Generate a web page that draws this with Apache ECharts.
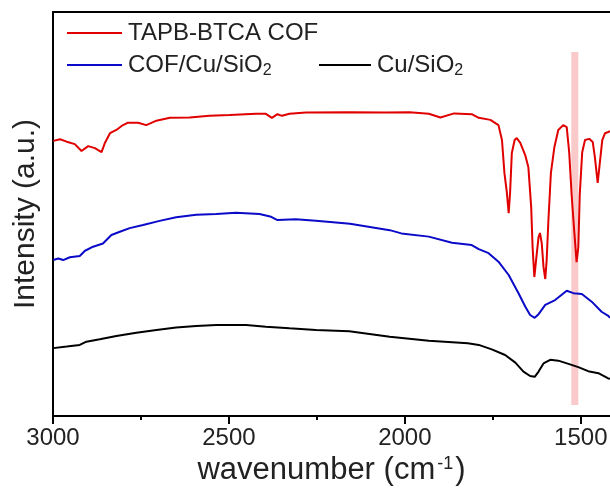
<!DOCTYPE html>
<html>
<head>
<meta charset="utf-8">
<title>FTIR</title>
<script src="https://cdn.jsdelivr.net/npm/echarts@6/dist/echarts.min.js"></script>
<style>
  html, body { margin: 0; padding: 0; background: #fff; }
  #chart { width: 610px; height: 488px; }
</style>
</head>
<body>
<div id="chart"></div>
<script>
// 波数 (cm-1) 与强度 (a.u.)
const redWn = [2999, 2980, 2961, 2938, 2919, 2900, 2881, 2862, 2853, 2838, 2820, 2805, 2787, 2758, 2735, 2706, 2668, 2612, 2555, 2498, 2423, 2395, 2378, 2362, 2349, 2328, 2281, 2158, 2054, 1987, 1932, 1899, 1860, 1810, 1790, 1757, 1734, 1724, 1717, 1710, 1705, 1701, 1696, 1688, 1682, 1672, 1658, 1649, 1641, 1637, 1632, 1625, 1620, 1616, 1611, 1606, 1601, 1597, 1592, 1585, 1575, 1564, 1550, 1540, 1533, 1526, 1518, 1512, 1507, 1503, 1496, 1488, 1476, 1466, 1460, 1452, 1445, 1439, 1431, 1422, 1417];
const redVal = [68.1, 68.5, 67.9, 67.3, 65.6, 66.8, 66.3, 65.3, 67.5, 70.0, 70.8, 71.8, 72.6, 72.6, 72.0, 73.1, 73.8, 73.9, 74.3, 74.5, 74.8, 74.8, 73.8, 74.7, 74.3, 74.8, 75.1, 75.2, 75.1, 75.2, 74.8, 73.9, 74.9, 74.7, 73.8, 73.3, 72.0, 68.3, 60.1, 55.2, 50.2, 55.2, 65.1, 68.3, 68.8, 67.6, 64.6, 61.6, 51.7, 41.8, 34.4, 40.3, 44.3, 45.3, 42.8, 36.9, 33.9, 38.6, 48.5, 60.1, 66.6, 70.8, 72.0, 71.5, 65.3, 54.7, 45.0, 38.1, 41.8, 54.7, 65.3, 68.3, 68.6, 67.8, 64.1, 57.7, 63.4, 68.3, 70.0, 70.3, 70.5];

const blueWn = [2999, 2985, 2971, 2952, 2924, 2909, 2886, 2858, 2834, 2810, 2782, 2744, 2697, 2650, 2593, 2536, 2480, 2413, 2380, 2362, 2310, 2253, 2196, 2156, 2043, 2010, 1932, 1866, 1810, 1790, 1762, 1734, 1705, 1677, 1658, 1644, 1631, 1620, 1601, 1573, 1540, 1521, 1497, 1469, 1441, 1422, 1417];
const blueVal = [38.6, 39.0, 38.6, 39.3, 39.6, 40.9, 41.9, 42.7, 44.8, 45.6, 46.5, 47.3, 48.3, 49.2, 49.8, 50.0, 50.3, 50.0, 49.3, 48.5, 48.7, 48.3, 47.9, 47.6, 46.0, 45.2, 44.4, 42.9, 42.3, 41.3, 40.3, 38.2, 34.9, 30.4, 27.1, 25.0, 24.3, 25.2, 27.5, 28.7, 31.0, 30.4, 30.2, 28.3, 25.8, 24.8, 24.3];

const blackWn = [2999, 2961, 2924, 2905, 2867, 2820, 2763, 2706, 2650, 2593, 2536, 2451, 2395, 2328, 2253, 2158, 2043, 1932, 1821, 1790, 1753, 1715, 1686, 1663, 1644, 1631, 1620, 1606, 1587, 1564, 1535, 1507, 1479, 1450, 1422, 1417];
const blackVal = [16.8, 17.2, 17.6, 18.4, 19.0, 19.8, 20.6, 21.3, 21.9, 22.3, 22.5, 22.5, 22.1, 21.7, 21.3, 21.0, 19.6, 18.6, 18.0, 17.6, 16.5, 15.1, 13.2, 11.0, 9.9, 9.7, 11.0, 13.0, 13.9, 13.7, 12.9, 12.1, 11.1, 10.6, 9.3, 9.2];

// 刻度与标签
const majorWn = [3000, 2500, 2000, 1500];
const minorWn = [2750, 2250, 1750];

// 标注带 (cm-1) 及其纵向范围
const bandWn = [1527, 1507];
const bandVal = [2.7, 90.1];

const font = "Liberation Sans, Arial, sans-serif";
const pair = (xs, ys) => xs.map((x, i) => [x, ys[i]]);

const chart = echarts.init(document.getElementById("chart"));

function legendAt(name, left, top, w) {
  return {
    data: [name],
    left: left,
    top: top,
    padding: 0,
    itemWidth: w,
    itemHeight: 14,
    icon: "path://M0,6 L52,6 L52,8 L0,8 Z",
    textStyle: {
      fontFamily: font,
      fontSize: 24,
      color: "#222",
      padding: [0, 0, 0, 1],
      rich: {
        a: { fontFamily: font, fontSize: 24, color: "#222", lineHeight: 28 },
        b: { fontFamily: font, fontSize: 16, color: "#222", verticalAlign: "bottom", lineHeight: 16, padding: [12, 0, 0, 0] }
      }
    },
    formatter: function (n) {
      if (n.endsWith("SiO2")) {
        return "{a|" + n.slice(0, -1) + "}{b|2}";
      }
      return "{a|" + n + "}";
    }
  };
}

const xMin = 1417;

chart.setOption({
  animation: false,
  grid: { left: 53, top: 12, bottom: 72, right: 0, outerBoundsMode: "none", containLabel: false },
  legend: [
    legendAt("TAPB-BTCA COF", 67, 21, 55),
    legendAt("COF/Cu/SiO2", 67, 51, 55),
    legendAt("Cu/SiO2", 319, 51, 52)
  ],
  xAxis: [
    {
      type: "value",
      inverse: true,
      min: xMin,
      max: 3000,
      name: "{a|wavenumber (cm}{b|-1}{a|)}",
      nameLocation: "middle",
      nameGap: 32,
      nameTextStyle: {
        rich: {
          a: { fontFamily: font, fontSize: 31, color: "#222" },
          b: { fontFamily: font, fontSize: 18, color: "#222", verticalAlign: "top", padding: [0, 2, 12, 2] }
        }
      },
      axisLine: { lineStyle: { color: "#000", width: 2 } },
      axisTick: { show: true, length: 8, customValues: majorWn, lineStyle: { color: "#000", width: 2 } },
      axisLabel: {
        fontFamily: font,
        fontSize: 24,
        color: "#222",
        margin: 10,
        customValues: majorWn,
        formatter: function (v) { return String(v); }
      },
      splitLine: { show: false }
    },
    {
      type: "value",
      position: "top",
      inverse: true,
      min: xMin,
      max: 3000,
      axisLine: { show: true, lineStyle: { color: "#000", width: 2 } },
      axisTick: { show: false },
      axisLabel: { show: false },
      splitLine: { show: false }
    },
    {
      // 次刻度
      type: "value",
      position: "bottom",
      inverse: true,
      min: xMin,
      max: 3000,
      axisLine: { show: false },
      axisTick: { show: true, length: 4, customValues: minorWn, lineStyle: { color: "#000", width: 2 } },
      axisLabel: { show: false },
      splitLine: { show: false }
    }
  ],
  yAxis: {
    type: "value",
    min: 0,
    max: 100,
    name: "Intensity (a.u.)",
    nameLocation: "middle",
    nameGap: 12,
    nameTextStyle: { fontFamily: font, fontSize: 30, color: "#222" },
    axisLine: { show: true, lineStyle: { color: "#000", width: 2 } },
    axisTick: { show: false },
    axisLabel: { show: false },
    splitLine: { show: false }
  },
  series: [
    {
      name: "TAPB-BTCA COF",
      type: "line",
      symbol: "none",
      data: pair(redWn, redVal),
      lineStyle: { color: "#e00000", width: 2 },
      itemStyle: { color: "#e00000" }
    },
    {
      name: "COF/Cu/SiO2",
      type: "line",
      symbol: "none",
      data: pair(blueWn, blueVal),
      lineStyle: { color: "#0a0ac8", width: 2 },
      itemStyle: { color: "#0a0ac8" }
    },
    {
      name: "Cu/SiO2",
      type: "line",
      symbol: "none",
      data: pair(blackWn, blackVal),
      lineStyle: { color: "#000", width: 2 },
      itemStyle: { color: "#000" }
    },
    {
      name: "band",
      type: "line",
      data: [],
      z: 10,
      silent: true,
      markArea: {
        silent: true,
        itemStyle: { color: "rgba(240,100,100,0.35)" },
        data: [[
          { xAxis: bandWn[0], yAxis: bandVal[1] },
          { xAxis: bandWn[1], yAxis: bandVal[0] }
        ]]
      }
    }
  ]
});
</script>
</body>
</html>
